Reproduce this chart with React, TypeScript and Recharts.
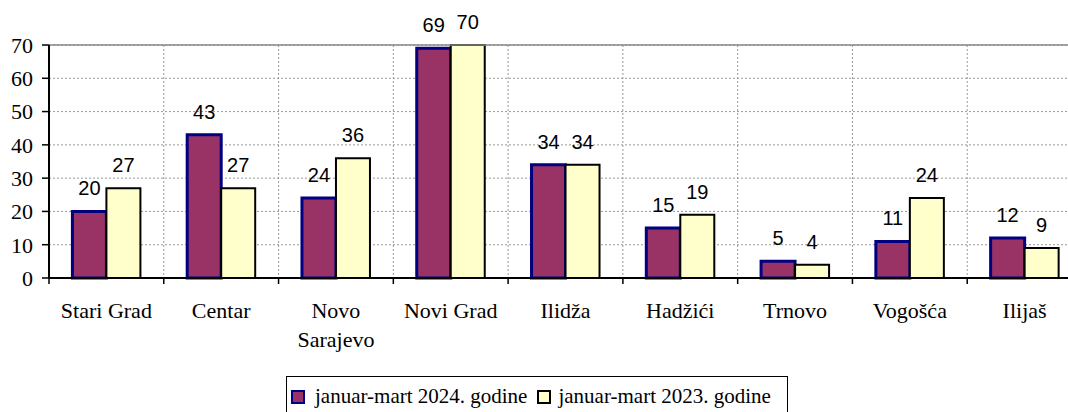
import { BarChart, Bar, CartesianGrid, XAxis, YAxis, Legend, LabelList, ReferenceLine } from "recharts";

const categories = ["Stari Grad", "Centar", "Novo Sarajevo", "Novi Grad", "Ilidža", "Hadžići", "Trnovo", "Vogošća", "Ilijaš"];
const values2024 = [20, 43, 24, 69, 34, 15, 5, 11, 12];
const values2023 = [27, 27, 36, 70, 34, 19, 4, 24, 9];
const yTicks = [0, 10, 20, 30, 40, 50, 60, 70];
const seriesNames = ["januar-mart 2024. godine", "januar-mart 2023. godine"];

// labels that Excel broke onto two lines
const wrapped: { [k: string]: string[] } = { "Novo Sarajevo": ["Novo", "Sarajevo"] };

const data = categories.map((name, i) => ({ name, y2024: values2024[i], y2023: values2023[i] }));

const serif = "'Liberation Serif', 'Times New Roman', serif";
const sans = "'Liberation Sans', Arial, sans-serif";

const CHART_W = 1082;
const Y_W = 49;
const BAND = (CHART_W - Y_W) / categories.length;

function CategoryTick(props: any) {
  const { x, y, payload } = props;
  const axisY = y - 6;
  const lines = wrapped[payload.value] ?? [payload.value];
  const left = x - BAND / 2;
  return (
    <g>
      <line x1={left} y1={axisY} x2={left} y2={axisY + 6} stroke="#000" strokeWidth={1.5} />
      <text x={x} y={axisY + 40} textAnchor="middle" fontFamily={serif} fontSize={22} fill="#000">
        {lines.map((l: string, i: number) => (
          <tspan key={i} x={x} dy={i === 0 ? 0 : 29}>{l}</tspan>
        ))}
      </text>
    </g>
  );
}

function LegendBox() {
  const colors = [
    { fill: "#993366", stroke: "#000080" },
    { fill: "#FFFFCC", stroke: "#000" },
  ];
  return (
    <div style={{ border: "1.5px solid #000", background: "#fff", display: "flex", alignItems: "center", padding: "7px 16px 14px 4px", fontFamily: serif, fontSize: 21, color: "#000", whiteSpace: "nowrap" }}>
      {seriesNames.map((n, i) => (
        <span key={n} style={{ display: "flex", alignItems: "center", marginLeft: i === 0 ? 0 : 10 }}>
          <span style={{ display: "inline-block", width: 14, height: 14, boxSizing: "border-box", background: colors[i].fill, border: `2.5px solid ${colors[i].stroke}`, marginRight: i === 0 ? 10 : 7 }} />
          {n}
        </span>
      ))}
    </div>
  );
}

export default function App() {
  return (
    <div style={{ position: "absolute", left: 0, top: 0, width: 1068, height: 412, overflow: "hidden", background: "#fff" }}>
      <BarChart width={CHART_W} height={412} data={data} margin={{ top: 45, right: 0, left: 0, bottom: 34 }} barGap={0} barCategoryGap="20.4%">
        <CartesianGrid
          stroke="#999"
          strokeDasharray="2 2"
          verticalCoordinatesGenerator={({ offset }: any) => categories.map((_, i) => offset.left + (i * offset.width) / categories.length)}
        />
        <ReferenceLine y={70} stroke="#888" strokeWidth={1.5} />
        <XAxis dataKey="name" height={100} tick={<CategoryTick />} tickLine={false} tickSize={6} tickMargin={0} axisLine={{ stroke: "#000", strokeWidth: 2 }} interval={0} />
        <YAxis width={Y_W} domain={[0, 70]} ticks={yTicks} interval={0} tickSize={7} tickMargin={9} axisLine={{ stroke: "#000", strokeWidth: 2 }} tickLine={{ stroke: "#000", strokeWidth: 1.5 }} tick={{ fontFamily: serif, fontSize: 22, fill: "#000" }} />
        <Legend layout="vertical" align="center" verticalAlign="middle" content={<LegendBox />} wrapperStyle={{ left: 286, top: 376, width: "auto" }} />
        <Bar dataKey="y2024" name={seriesNames[0]} fill="#993366" stroke="#000080" strokeWidth={3} isAnimationActive={false}>
          <LabelList dataKey="y2024" position="top" offset={16} style={{ fontFamily: sans, fontSize: 20, fill: "#000" }} />
        </Bar>
        <Bar dataKey="y2023" name={seriesNames[1]} fill="#FFFFCC" stroke="#000" strokeWidth={2} isAnimationActive={false}>
          <LabelList dataKey="y2023" position="top" offset={16} style={{ fontFamily: sans, fontSize: 20, fill: "#000" }} />
        </Bar>
      </BarChart>
    </div>
  );
}
